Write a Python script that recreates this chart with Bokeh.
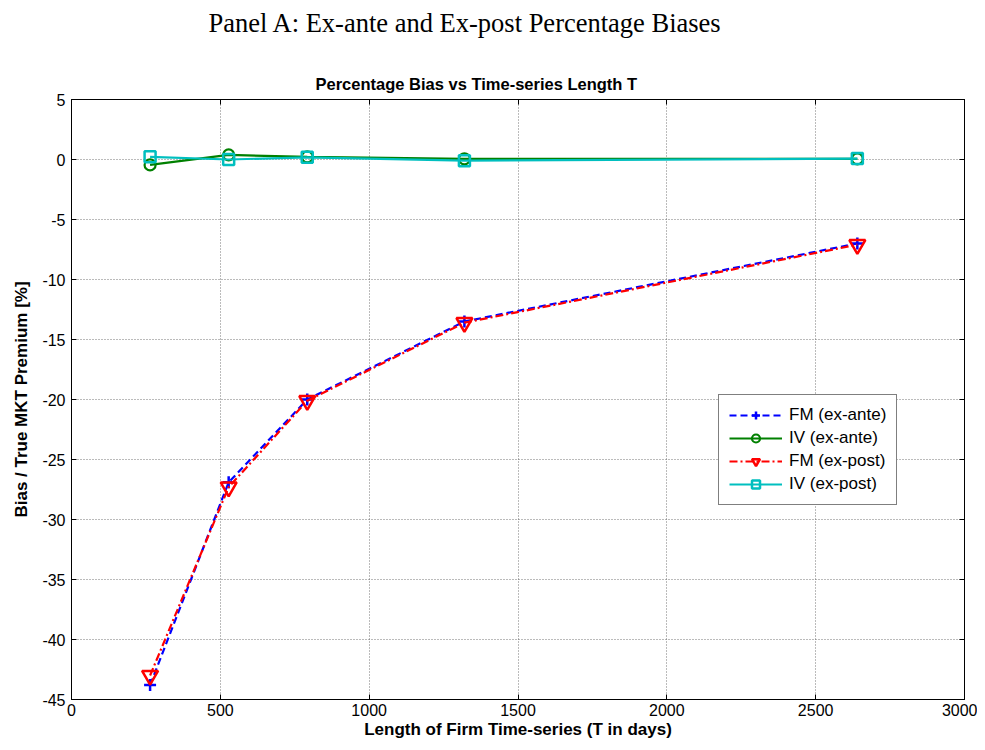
from bokeh.plotting import figure
from bokeh.layouts import column
from bokeh.models import (Range1d, FixedTicker, LinearAxis, Title, Legend, LegendItem,
                          CustomJSTickFormatter)
from bokeh.embed import file_html
from bokeh.resources import INLINE

# ---- data ----
T = [264, 528, 792, 1320, 2640]
fm_ante = [-43.8, -26.9, -20.0, -13.5, -7.0]
iv_ante = [-0.45, 0.38, 0.22, 0.06, 0.05]
fm_post = [-43.0, -27.3, -20.1, -13.6, -7.1]
iv_post = [0.22, 0.0, 0.18, -0.1, 0.08]
x_ticks = [0, 500, 1000, 1500, 2000, 2500, 3000]
y_ticks = [-45, -40, -35, -30, -25, -20, -15, -10, -5, 0, 5]

FONT = "Liberation Sans"

# ---- panel heading (separate strip figure) ----
head = figure(width=977, height=61, output_backend="svg", toolbar_location=None,
              x_axis_type=None, y_axis_type=None,
              min_border_left=71, min_border_right=13, min_border_top=0, min_border_bottom=0)
head.outline_line_color = None
head.background_fill_color = "white"
head.border_fill_color = "white"
head.title = Title(text="Panel A: Ex-ante and Ex-post Percentage Biases", align="left", offset=137,
                   text_font="Liberation Serif", text_font_size="26.5px", text_font_style="normal",
                   text_color="black", standoff=10)

# ---- main plot ----
p = figure(width=977, height=681, x_range=Range1d(0, 3000), y_range=Range1d(-45, 5),
           output_backend="svg", toolbar_location=None,
           min_border_left=71, min_border_right=13, min_border_top=38, min_border_bottom=43)
p.title = None
p.background_fill_color = "white"
p.border_fill_color = "white"
p.outline_line_color = "black"
p.outline_line_width = 1

hyphen_fmt = CustomJSTickFormatter(code="return tick.toString();")

for ax in (p.xaxis[0], p.yaxis[0]):
    ax.major_tick_in = 5
    ax.major_tick_out = 0
    ax.minor_tick_in = 0
    ax.minor_tick_out = 0
    ax.axis_line_color = "black"
    ax.major_label_text_font = FONT
    ax.major_label_text_font_size = "16px"
    ax.major_label_text_color = "black"
    ax.axis_label_text_font = FONT
    ax.axis_label_text_font_size = "17px"
    ax.axis_label_text_font_style = "bold"
    ax.axis_label_text_color = "black"
    ax.formatter = hyphen_fmt

p.xaxis[0].ticker = FixedTicker(ticks=x_ticks)
p.yaxis[0].ticker = FixedTicker(ticks=y_ticks)
p.xaxis[0].axis_label = "Length of Firm Time-series (T in days)"
p.yaxis[0].axis_label = "Bias / True MKT Premium [%]"
p.xaxis[0].major_label_standoff = 4
p.xaxis[0].axis_label_standoff = 1
p.yaxis[0].major_label_standoff = 6
p.yaxis[0].axis_label_standoff = 8

# box ticks on top and right (no labels)
blank_fmt = CustomJSTickFormatter(code="return '';")
top_ax = LinearAxis(ticker=FixedTicker(ticks=x_ticks), major_tick_in=5, major_tick_out=0,
                    minor_tick_in=0, minor_tick_out=0, formatter=blank_fmt,
                    major_label_standoff=0, axis_line_color="black")
right_ax = LinearAxis(ticker=FixedTicker(ticks=y_ticks), major_tick_in=5, major_tick_out=0,
                      minor_tick_in=0, minor_tick_out=0, formatter=blank_fmt,
                      major_label_standoff=0, axis_line_color="black")
p.add_layout(top_ax, "above")
p.add_layout(right_ax, "right")

p.xgrid.ticker = FixedTicker(ticks=x_ticks)
p.ygrid.ticker = FixedTicker(ticks=y_ticks)
for g in (p.xgrid[0], p.ygrid[0]):
    g.grid_line_color = "#555555"
    g.grid_line_dash = "1 2"
    g.grid_line_width = 1
    g.grid_line_alpha = 0.8

plot_title = Title(text="Percentage Bias vs Time-series Length T", align="left", offset=244,
                   text_font=FONT, text_font_size="16.5px", text_font_style="bold",
                   text_color="black", standoff=14)
p.add_layout(plot_title, "above")

# series
r1l = p.line(T, fm_ante, line_color="#0000FF", line_width=2.2, line_dash="7 4")
r1m = p.scatter(T, fm_ante, marker="cross", size=12, line_color="#0000FF", line_width=2.5)
r2l = p.line(T, iv_ante, line_color="#008000", line_width=2.2)
r2m = p.scatter(T, iv_ante, marker="circle", size=11, line_color="#008000", fill_color=None, line_width=2.2)
r3l = p.line(T, fm_post, line_color="#FF0000", line_width=2.2, line_dash="8 3 2 3")
r3m = p.scatter(T, fm_post, marker="inverted_triangle", size=16, line_color="#FF0000", fill_color=None, line_width=2.5)
r4l = p.line(T, iv_post, line_color="#00BFBF", line_width=2.2)
r4m = p.scatter(T, iv_post, marker="square", size=11, line_color="#00BFBF", fill_color=None, line_width=2.5)

legend = Legend(items=[
    LegendItem(label="FM (ex-ante)", renderers=[r1l, r1m]),
    LegendItem(label="IV (ex-ante)", renderers=[r2l, r2m]),
    LegendItem(label="FM (ex-post)", renderers=[r3l, r3m]),
    LegendItem(label="IV (ex-post)", renderers=[r4l, r4m]),
], location=(647, 194))
legend.border_line_color = "black"
legend.border_line_width = 1
legend.background_fill_color = "white"
legend.background_fill_alpha = 1
legend.label_text_font = FONT
legend.label_text_font_size = "17px"
legend.label_text_color = "black"
legend.glyph_width = 53
legend.glyph_height = 20
legend.label_standoff = 7
legend.spacing = 3
legend.padding = 10
legend.margin = 0
p.add_layout(legend, "center")

layout = column(head, p, spacing=0)
open("out.html", "w").write(file_html(layout, INLINE))
